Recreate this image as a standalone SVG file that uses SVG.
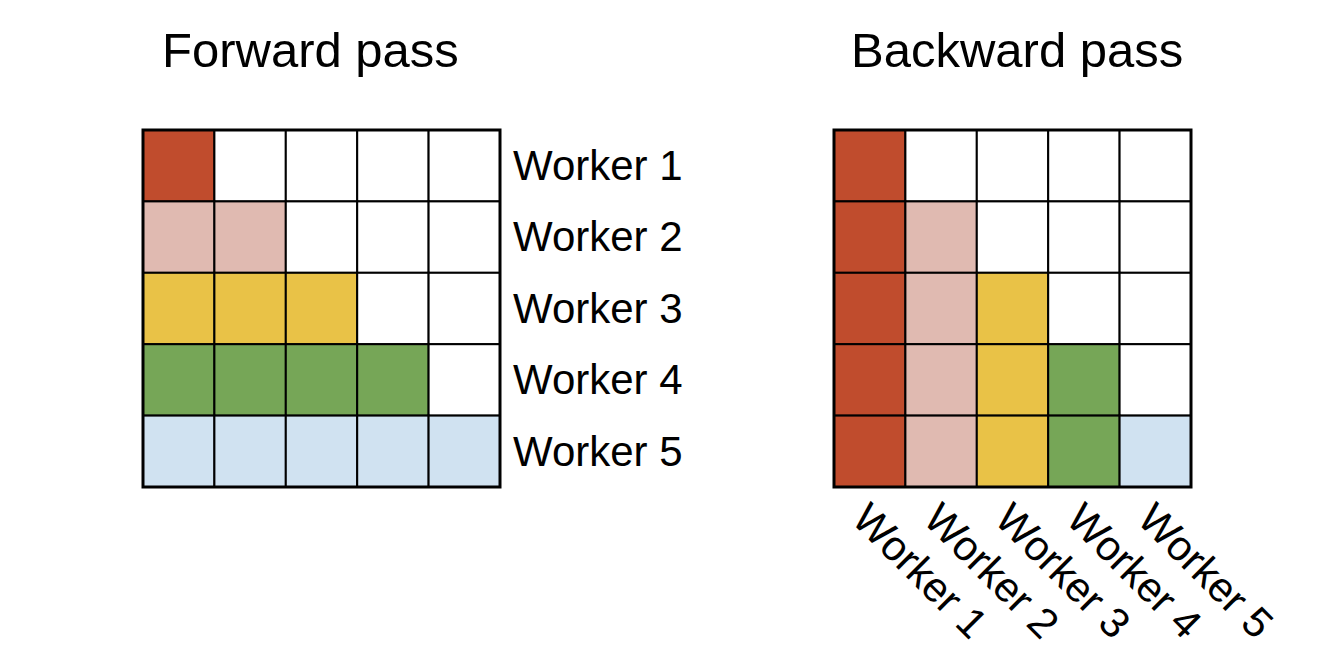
<svg xmlns="http://www.w3.org/2000/svg" width="1338" height="665" viewBox="0 0 1338 665">
<style>
text{font-family:"Liberation Sans",Arial,sans-serif;fill:#000}
.title{font-size:49px}
.lbl{font-size:42px}
.c{stroke:#000;stroke-width:2}
.w{fill:#fff}
.r{fill:#C04C2D}
.p{fill:#E0BAB1}
.y{fill:#E9C247}
.g{fill:#76A657}
.b{fill:#D0E2F1}
.frame{fill:none;stroke:#000;stroke-width:3}
</style>
<rect width="1338" height="665" fill="#fff"/>
<g id="forward">
<text class="title" x="162" y="67">Forward pass</text>
<g id="forward-grid">
<rect class="c r" x="143" y="130" width="71.4" height="71.4"/>
<rect class="c w" x="214.4" y="130" width="71.4" height="71.4"/>
<rect class="c w" x="285.8" y="130" width="71.4" height="71.4"/>
<rect class="c w" x="357.2" y="130" width="71.4" height="71.4"/>
<rect class="c w" x="428.6" y="130" width="71.4" height="71.4"/>
<rect class="c p" x="143" y="201.4" width="71.4" height="71.4"/>
<rect class="c p" x="214.4" y="201.4" width="71.4" height="71.4"/>
<rect class="c w" x="285.8" y="201.4" width="71.4" height="71.4"/>
<rect class="c w" x="357.2" y="201.4" width="71.4" height="71.4"/>
<rect class="c w" x="428.6" y="201.4" width="71.4" height="71.4"/>
<rect class="c y" x="143" y="272.8" width="71.4" height="71.4"/>
<rect class="c y" x="214.4" y="272.8" width="71.4" height="71.4"/>
<rect class="c y" x="285.8" y="272.8" width="71.4" height="71.4"/>
<rect class="c w" x="357.2" y="272.8" width="71.4" height="71.4"/>
<rect class="c w" x="428.6" y="272.8" width="71.4" height="71.4"/>
<rect class="c g" x="143" y="344.2" width="71.4" height="71.4"/>
<rect class="c g" x="214.4" y="344.2" width="71.4" height="71.4"/>
<rect class="c g" x="285.8" y="344.2" width="71.4" height="71.4"/>
<rect class="c g" x="357.2" y="344.2" width="71.4" height="71.4"/>
<rect class="c w" x="428.6" y="344.2" width="71.4" height="71.4"/>
<rect class="c b" x="143" y="415.6" width="71.4" height="71.4"/>
<rect class="c b" x="214.4" y="415.6" width="71.4" height="71.4"/>
<rect class="c b" x="285.8" y="415.6" width="71.4" height="71.4"/>
<rect class="c b" x="357.2" y="415.6" width="71.4" height="71.4"/>
<rect class="c b" x="428.6" y="415.6" width="71.4" height="71.4"/>
<rect class="frame" x="143" y="130" width="357" height="357"/>
</g>
<g id="forward-labels">
<text class="lbl" x="513" y="180">Worker 1</text>
<text class="lbl" x="513" y="251.4">Worker 2</text>
<text class="lbl" x="513" y="322.8">Worker 3</text>
<text class="lbl" x="513" y="394.2">Worker 4</text>
<text class="lbl" x="513" y="465.6">Worker 5</text>
</g>
</g>
<g id="backward">
<text class="title" x="851" y="67">Backward pass</text>
<g id="backward-grid">
<rect class="c r" x="834" y="130" width="71.4" height="71.4"/>
<rect class="c w" x="905.4" y="130" width="71.4" height="71.4"/>
<rect class="c w" x="976.8" y="130" width="71.4" height="71.4"/>
<rect class="c w" x="1048.2" y="130" width="71.4" height="71.4"/>
<rect class="c w" x="1119.6" y="130" width="71.4" height="71.4"/>
<rect class="c r" x="834" y="201.4" width="71.4" height="71.4"/>
<rect class="c p" x="905.4" y="201.4" width="71.4" height="71.4"/>
<rect class="c w" x="976.8" y="201.4" width="71.4" height="71.4"/>
<rect class="c w" x="1048.2" y="201.4" width="71.4" height="71.4"/>
<rect class="c w" x="1119.6" y="201.4" width="71.4" height="71.4"/>
<rect class="c r" x="834" y="272.8" width="71.4" height="71.4"/>
<rect class="c p" x="905.4" y="272.8" width="71.4" height="71.4"/>
<rect class="c y" x="976.8" y="272.8" width="71.4" height="71.4"/>
<rect class="c w" x="1048.2" y="272.8" width="71.4" height="71.4"/>
<rect class="c w" x="1119.6" y="272.8" width="71.4" height="71.4"/>
<rect class="c r" x="834" y="344.2" width="71.4" height="71.4"/>
<rect class="c p" x="905.4" y="344.2" width="71.4" height="71.4"/>
<rect class="c y" x="976.8" y="344.2" width="71.4" height="71.4"/>
<rect class="c g" x="1048.2" y="344.2" width="71.4" height="71.4"/>
<rect class="c w" x="1119.6" y="344.2" width="71.4" height="71.4"/>
<rect class="c r" x="834" y="415.6" width="71.4" height="71.4"/>
<rect class="c p" x="905.4" y="415.6" width="71.4" height="71.4"/>
<rect class="c y" x="976.8" y="415.6" width="71.4" height="71.4"/>
<rect class="c g" x="1048.2" y="415.6" width="71.4" height="71.4"/>
<rect class="c b" x="1119.6" y="415.6" width="71.4" height="71.4"/>
<rect class="frame" x="834" y="130" width="357" height="357"/>
</g>
<g id="backward-labels">
<text class="lbl" transform="translate(850,521) rotate(45)">Worker 1</text>
<text class="lbl" transform="translate(921.4,521) rotate(45)">Worker 2</text>
<text class="lbl" transform="translate(992.8,521) rotate(45)">Worker 3</text>
<text class="lbl" transform="translate(1064.2,521) rotate(45)">Worker 4</text>
<text class="lbl" transform="translate(1135.6,521) rotate(45)">Worker 5</text>
</g>
</g>
<g id="connectors"/>
</svg>
